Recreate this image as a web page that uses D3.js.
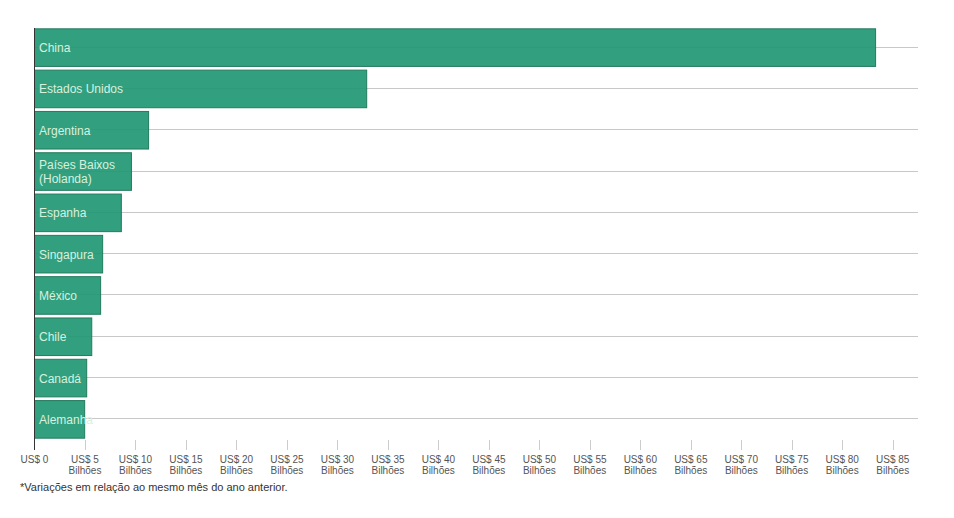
<!DOCTYPE html>
<html><head><meta charset="utf-8">
<script src="https://cdn.jsdelivr.net/npm/d3@7"></script>
<style>
body{margin:0;background:#fff;font-family:"Liberation Sans",Arial,sans-serif;}
</style></head>
<body><svg id="c" width="954" height="518"></svg>
<script>
const countries = ["China","Estados Unidos","Argentina","Países Baixos (Holanda)","Espanha","Singapura","México","Chile","Canadá","Alemanha"];
const values = [83.3,32.9,11.3,9.6,8.6,6.75,6.55,5.67,5.17,4.97];
const tickValues = [0,5,10,15,20,25,30,35,40,45,50,55,60,65,70,75,80,85];
const tickUnit = "Bilhões";
const footnote = "*Variações em relação ao mesmo mês do ano anterior.";

const svg = d3.select("#c");
const x = d3.scaleLinear().domain([0,87.5]).range([34.5,918]);
const y = d3.scaleBand().domain(countries).range([28,439]).paddingInner(0.09).paddingOuter(0.02);

// gridlines
svg.append("g").selectAll("line").data(countries).join("line")
  .attr("x1",34).attr("x2",918)
  .attr("y1",d=>Math.round(y(d)+y.bandwidth()/2)-0.5)
  .attr("y2",d=>Math.round(y(d)+y.bandwidth()/2)-0.5)
  .attr("stroke","#c8c8c8").attr("stroke-width",1);

// bars
svg.append("g").selectAll("rect").data(countries).join("rect")
  .attr("x",x(0)).attr("y",d=>y(d))
  .attr("width",(d,i)=>x(values[i])-x(0))
  .attr("height",y.bandwidth())
  .attr("fill","rgb(34,153,116)").attr("fill-opacity",0.93)
  .attr("stroke","#237a5d").attr("stroke-width",1);

// labels
const lab = svg.append("g").selectAll("text").data(countries).join("text")
  .attr("x",39)
  .attr("font-size",12).attr("fill","#d9f0df");
lab.each(function(d){
  const t = d3.select(this);
  const cy = y(d)+y.bandwidth()/2;
  if(d.includes("(")){
    const parts = ["Países Baixos","(Holanda)"];
    parts.forEach((p,j)=>t.append("tspan").attr("x",39).attr("y",cy-2.5+j*13.5).text(p));
  } else {
    t.attr("y",cy+4.5).text(d);
  }
});

// axis ticks
const ax = svg.append("g");
ax.selectAll("line").data(tickValues.filter(v=>v>0)).join("line")
  .attr("x1",d=>Math.round(x(d))+0.5).attr("x2",d=>Math.round(x(d))+0.5)
  .attr("y1",440).attr("y2",450).attr("stroke","#ccc");
const tl = ax.selectAll("text").data(tickValues).join("text")
  .attr("x",d=>x(d)).attr("y",463).attr("text-anchor","middle")
  .attr("font-size",10).attr("fill","#555");
tl.each(function(d){
  const t = d3.select(this);
  t.append("tspan").attr("x",x(d)).attr("y",463).text("US$ "+d);
  if(d>0) t.append("tspan").attr("x",x(d)).attr("y",474).text(tickUnit);
});
// left axis line
svg.append("line").attr("x1",34.5).attr("x2",34.5).attr("y1",28).attr("y2",450)
  .attr("stroke","#333").attr("stroke-width",1);

svg.append("text").attr("x",20).attr("y",491).attr("font-size",11).attr("fill","#333").text(footnote);
</script></body></html>
